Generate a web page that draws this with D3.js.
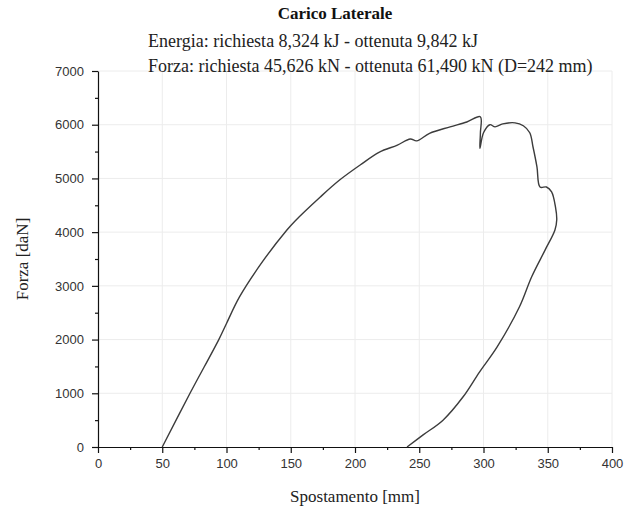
<!DOCTYPE html>
<html>
<head>
<meta charset="utf-8">
<script src="https://cdn.jsdelivr.net/npm/d3@7"></script>
<style>
  body { margin: 0; background: #fff; }
  svg { display: block; }
</style>
</head>
<body>
<svg id="chart" width="626" height="506"></svg>
<script>
// displacement [mm] and force [daN], in drawing order
var spostamento = [50, 71.6, 94, 100, 110, 128, 147, 153, 173, 188, 204, 219, 233, 243, 248, 258, 274, 287, 297.5,
                   297.6, 297.2, 300, 305, 309, 315, 324.5, 331, 336, 338.5, 341.6, 344, 349, 353, 356, 357,
                   355.6, 348, 337.5, 328, 310.5, 297, 284, 268.5, 253, 240.5];
var forza = [0, 1000, 2000, 2300, 2790, 3450, 4040, 4200, 4655, 4970, 5250, 5490, 5620, 5735, 5700, 5840, 5960, 6050, 6149,
             5850, 5560, 5850, 6000, 5960, 6015, 6035, 5980, 5850, 5590, 5215, 4840, 4840, 4750, 4470, 4230,
             4040, 3670, 3170, 2610, 1860, 1400, 930, 500, 225, 0];

var xTicks = [0, 50, 100, 150, 200, 250, 300, 350, 400];
var yTicks = [0, 1000, 2000, 3000, 4000, 5000, 6000, 7000];
var xMinor = [25, 75, 125, 175, 225, 275, 325, 375];
var yMinor = [500, 1500, 2500, 3500, 4500, 5500, 6500];

var titolo = "Carico Laterale";
var righe = ["Energia: richiesta 8,324 kJ - ottenuta 9,842 kJ",
             "Forza: richiesta 45,626 kN - ottenuta 61,490 kN (D=242 mm)"];

var margin = {left: 98, right: 14, top: 71, bottom: 59};
var svg = d3.select("#chart");
var W = 626, H = 506;
var serif = "'Liberation Serif', 'Times New Roman', serif";

var x = d3.scaleLinear().domain([0, 400]).range([margin.left, W - margin.right]);
var y = d3.scaleLinear().domain([0, 7000]).range([H - margin.bottom, margin.top]);

// faint grid
svg.append("g").selectAll("line")
    .data(xTicks.slice(1))
    .enter().append("line")
    .attr("x1", function(d) { return x(d); }).attr("x2", function(d) { return x(d); })
    .attr("y1", y(0)).attr("y2", y(7000))
    .style("stroke", "#ececec").style("stroke-width", 1);
svg.append("g").selectAll("line")
    .data(yTicks.slice(1))
    .enter().append("line")
    .attr("x1", x(0)).attr("x2", x(400))
    .attr("y1", function(d) { return y(d); }).attr("y2", function(d) { return y(d); })
    .style("stroke", "#ececec").style("stroke-width", 1);

// axes
svg.append("g")
    .attr("transform", "translate(0," + y(0) + ")")
    .call(d3.axisBottom(x).tickValues(xTicks).tickFormat(d3.format("d")).tickSize(6).tickPadding(6).tickSizeOuter(0));
svg.append("g")
    .attr("transform", "translate(0," + y(0) + ")")
    .call(d3.axisBottom(x).tickValues(xMinor).tickSize(3).tickFormat("").tickSizeOuter(0))
    .select(".domain").remove();

svg.append("g")
    .attr("transform", "translate(" + x(0) + ",0)")
    .call(d3.axisLeft(y).tickValues(yTicks).tickFormat(d3.format("d")).tickSize(6).tickPadding(8).tickSizeOuter(0));
svg.append("g")
    .attr("transform", "translate(" + x(0) + ",0)")
    .call(d3.axisLeft(y).tickValues(yMinor).tickSize(3).tickFormat("").tickSizeOuter(0))
    .select(".domain").remove();

svg.selectAll(".domain, .tick line").style("stroke", "#111").style("stroke-width", 1.2);
svg.selectAll(".tick text")
    .style("font-family", "'Liberation Sans', Arial, sans-serif")
    .style("font-size", "13px")
    .style("fill", "#333");

// curve
var line = d3.line()
    .x(function(d) { return x(d[0]); })
    .y(function(d) { return y(d[1]); })
    .curve(d3.curveCatmullRom.alpha(0.5));

svg.append("path")
    .datum(d3.zip(spostamento, forza))
    .attr("d", line)
    .style("fill", "none")
    .style("stroke", "#3c3c3c")
    .style("stroke-width", 1.4)
    .style("stroke-linejoin", "round");

// texts
svg.append("text")
    .attr("x", 335).attr("y", 19)
    .attr("text-anchor", "middle")
    .style("font-family", serif)
    .style("font-weight", "bold")
    .style("font-size", "17px")
    .style("fill", "#111")
    .text(titolo);

svg.selectAll("text.riga")
    .data(righe)
    .enter().append("text")
    .attr("class", "riga")
    .attr("x", 148)
    .attr("y", function(d, i) { return 47 + i * 25; })
    .style("font-family", serif)
    .style("font-size", "18px")
    .style("fill", "#222")
    .text(function(d) { return d; });

svg.append("text")
    .attr("transform", "translate(28," + y(3500) + ") rotate(-90)")
    .attr("text-anchor", "middle")
    .style("font-family", serif)
    .style("font-size", "17px")
    .style("fill", "#222")
    .text("Forza [daN]");

svg.append("text")
    .attr("x", x(200)).attr("y", 502)
    .attr("text-anchor", "middle")
    .style("font-family", serif)
    .style("font-size", "17px")
    .style("fill", "#222")
    .text("Spostamento [mm]");
</script>
</body>
</html>
